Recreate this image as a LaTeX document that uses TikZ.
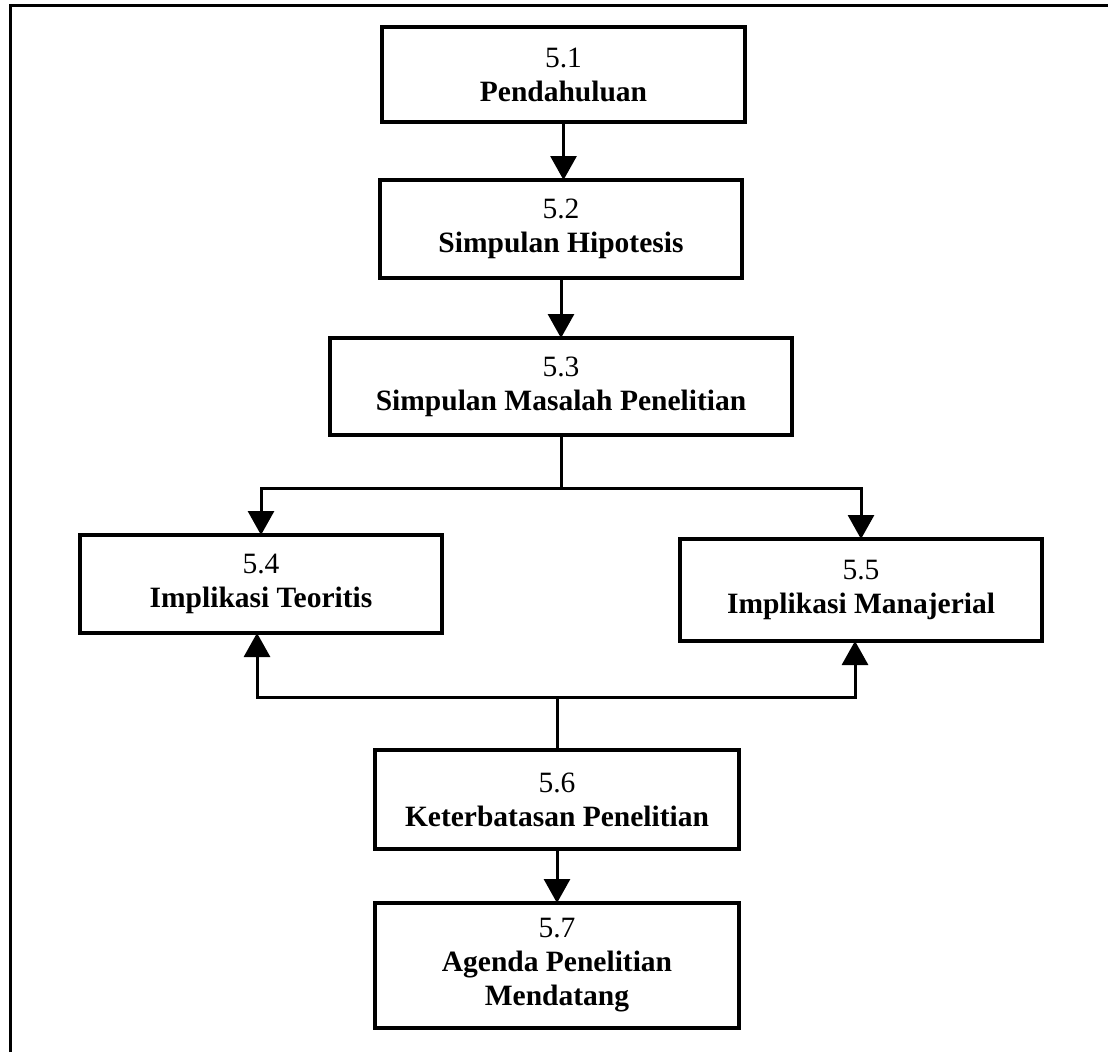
\documentclass[tikz,border=0pt]{standalone}
\usepackage{fontspec}
\setmainfont{Liberation Serif}
\usetikzlibrary{arrows.meta}

\begin{document}
\begin{tikzpicture}[x=1pt,y=-1pt,
  box/.style={draw, line width=3.5pt, outer sep=0pt, inner sep=0pt,
    align=center, font=\fontsize{29.5}{34}\selectfont},
  link/.style={line width=3pt},
  arr/.style={link, -{Triangle[width=26pt,length=24pt]}},
  frame/.style={line width=3pt}]

\useasboundingbox (0,0) rectangle (1108,1052);

% outer frame (only top and left edges are shown)
\draw[frame] (10,1052) -- (10,5) -- (1108,5);

% boxes
\node[box, minimum width=363pt, minimum height=95pt]  (b1) at (563.5,74.5)
  {5.1\\\textbf{Pendahuluan}};
\node[box, minimum width=362pt, minimum height=98pt]  (b2) at (561,229)
  {5.2\\\textbf{Simpulan Hipotesis}};
\node[box, minimum width=462pt, minimum height=97pt]  (b3) at (561,386.5)
  {5.3\\\textbf{Simpulan Masalah Penelitian}};
\node[box, minimum width=362pt, minimum height=98pt]  (b4) at (261,584)
  {5.4\\\textbf{Implikasi Teoritis}};
\node[box, minimum width=362pt, minimum height=102pt] (b5) at (861,590)
  {5.5\\\textbf{Implikasi Manajerial}};
\node[box, minimum width=364pt, minimum height=99pt]  (b6) at (557,799.5)
  {5.6\\\textbf{Keterbatasan Penelitian}};
\node[box, minimum width=364pt, minimum height=125pt] (b7) at (557,965.5)
  {5.7\\\textbf{Agenda Penelitian}\\\textbf{Mendatang}};

% straight flow
\draw[arr] (b1.south) -- (b1.south |- b2.north);
\draw[arr] (b2.south) -- (b2.south |- b3.north);
\draw[arr] (b6.south) -- (b6.south |- b7.north);

% branch from 5.3 to 5.4 and 5.5
\draw[link] (b3.south) -- ++(0,53) coordinate (split);
\draw[arr] (split) -| (b4.north);
\draw[arr] (split) -| (b5.north);

% branch from 5.6 up to 5.4 and 5.5
\draw[link] (b6.north) -- ++(0,-53) coordinate (merge);
\draw[arr] (merge) -| ([xshift=-4pt]b4.south);
\draw[arr] (merge) -| ([xshift=-6pt]b5.south);

\end{tikzpicture}
\end{document}
